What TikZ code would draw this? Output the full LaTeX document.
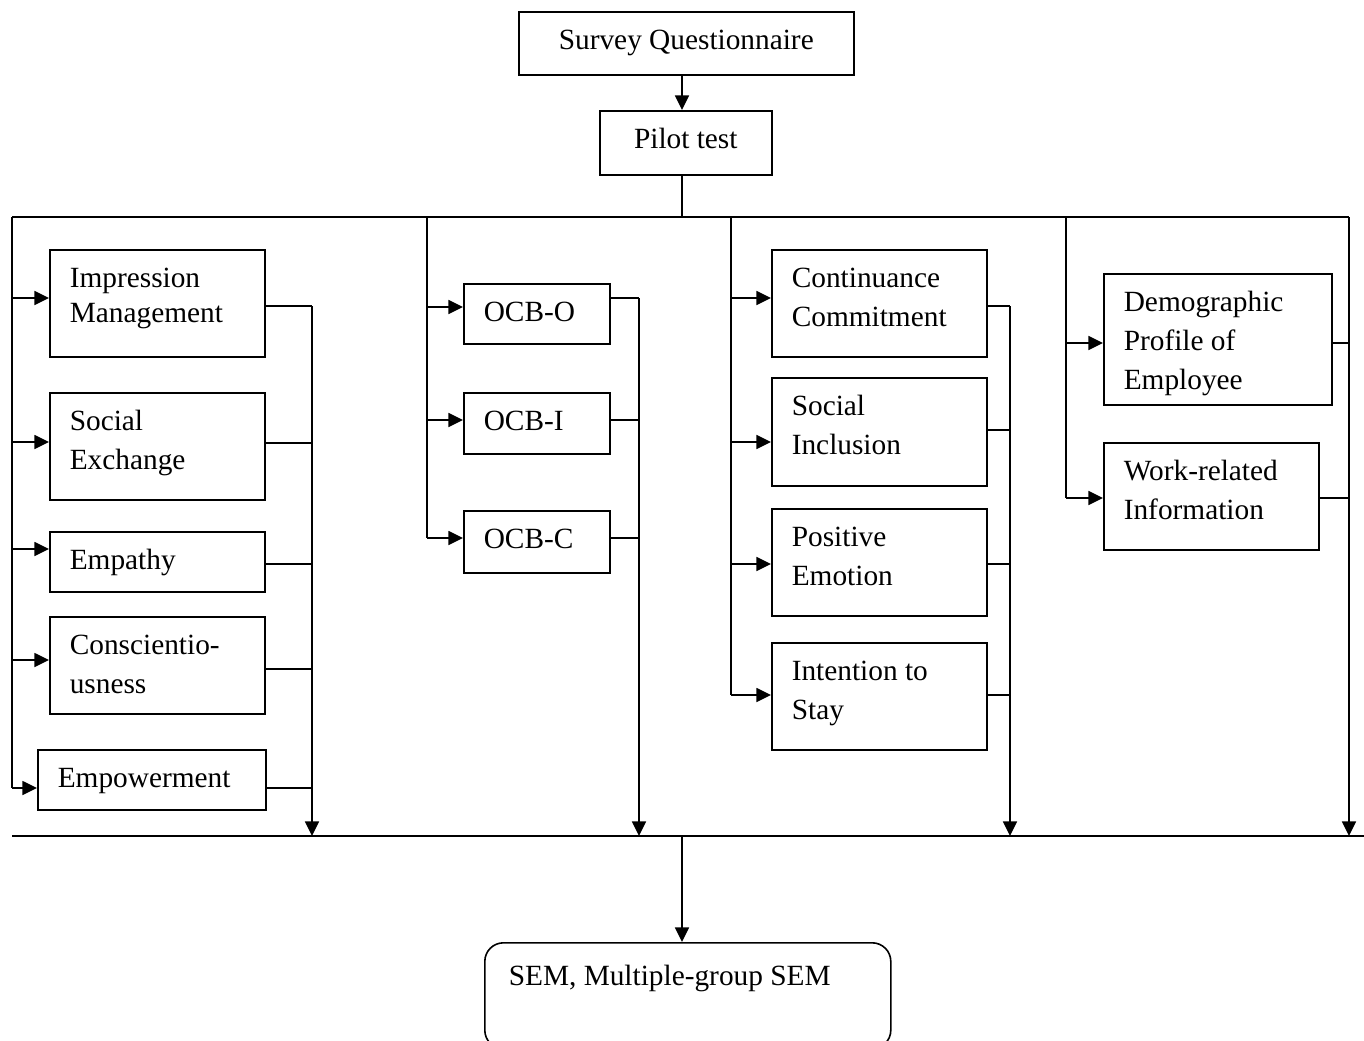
\documentclass[tikz,border=0pt]{standalone}
\usepackage{fontspec}
\setmainfont{Liberation Serif}
\usetikzlibrary{arrows.meta}

% text block of a box: width, height and left inset given in px units
\newcommand{\cell}[5][28.5pt]{\parbox[t][\dimexpr0.75pt*#3\relax][t]{\dimexpr0.75pt*#2\relax}{\raggedright\leftskip=\dimexpr0.75pt*#4\relax\rule{0pt}{#1}#5}}
\newcommand{\ccell}[3]{\parbox[t][\dimexpr0.75pt*#2\relax][t]{\dimexpr0.75pt*#1\relax}{\centering\rule{0pt}{28.5pt}#3}}

\tikzset{
  box/.style={draw, line width=1.2pt, inner sep=0pt, anchor=north west,
              font=\fontsize{22pt}{29pt}\selectfont},
  link/.style={line width=1.2pt},
  arr/.style={link, -{Triangle[length=11pt,width=10.5pt]}},
}

\begin{document}
\begin{tikzpicture}[x=0.75pt, y=-0.75pt]
\useasboundingbox (0,0) rectangle (1364,1040);

% top of the flow
\node[box] (sq) at (518,11)  {\ccell{335}{63}{Survey Questionnaire}};
\node[box] (pt) at (599,110) {\ccell{172}{64}{Pilot test}};

% first group
\node[box] (im) at (49,249) {\cell{215}{107}{20}{Impression\\[-3pt]Management}};
\node[box] (se) at (49,392) {\cell{215}{107}{20}{Social\\Exchange}};
\node[box] (em) at (49,531) {\cell{215}{60}{20}{Empathy}};
\node[box] (cs) at (49,616) {\cell{215}{97}{20}{Conscientio-\\usness}};
\node[box] (ep) at (37,749) {\cell{228}{60}{20}{Empowerment}};

% second group
\node[box] (oo) at (463,283) {\cell{146}{60}{20}{OCB-O}};
\node[box] (oi) at (463,392) {\cell{146}{61}{20}{OCB-I}};
\node[box] (oc) at (463,510) {\cell{146}{62}{20}{OCB-C}};

% third group
\node[box] (cc) at (771,249) {\cell{215}{107}{20}{Continuance\\Commitment}};
\node[box] (si) at (771,377) {\cell{215}{108}{20}{Social\\Inclusion}};
\node[box] (pe) at (771,508) {\cell{215}{107}{20}{Positive\\Emotion}};
\node[box] (is) at (771,642) {\cell{215}{107}{20}{Intention to\\Stay}};

% fourth group
\node[box] (dp) at (1103,273) {\cell{228}{131}{20}{Demographic\\Profile of\\Employee}};
\node[box] (wr) at (1103,442) {\cell{215}{107}{20}{Work-related\\Information}};

% analysis
\node[box, rounded corners=14pt] (sem) at (484,942) {\cell[32pt]{406}{106}{24}{SEM, Multiple-group SEM}};

% bus coordinates
\coordinate (hub) at (682,217);
\coordinate (tL) at (12,217);
\coordinate (tR) at (1349,217);
\coordinate (bL) at (12,836);
\coordinate (bR) at (1364,836);
\coordinate (g2) at (427,217);
\coordinate (g3) at (731,217);
\coordinate (g4) at (1066,217);

\draw[arr] (hub |- sq.south) -- (hub |- pt.north);
\draw[link] (hub |- pt.south) -- (hub);
\draw[link] (tL) -- (tR);
\draw[link] (bL) -- (bR);
\draw[arr] (hub |- bL) -- (hub |- sem.north);

% feeders into the boxes
\foreach \n/\x/\y in {im/12/298, se/12/442, em/12/549, cs/12/660, ep/12/788,
                      oo/427/307, oi/427/420, oc/427/538,
                      cc/731/298, si/731/442, pe/731/564, is/731/695,
                      dp/1066/343, wr/1066/498}{
  \coordinate (\n-in) at (\x,\y);
  \draw[arr] (\n-in) -- (\n-in -| \n.west);
}
\draw[link] (tL) -- (ep-in);
\draw[link] (g2) -- (oc-in);
\draw[link] (g3) -- (is-in);
\draw[link] (g4) -- (wr-in);

% collectors out of the boxes
\foreach \n/\x/\y in {im/312/306, se/312/443, em/312/564, cs/312/669, ep/312/788,
                      oo/639/298, oi/639/420, oc/639/538,
                      cc/1010/306, si/1010/430, pe/1010/564, is/1010/695,
                      dp/1349/343, wr/1349/498}{
  \coordinate (\n-out) at (\x,\y);
  \draw[link] (\n-out -| \n.east) -- (\n-out);
}
\draw[arr] (im-out) -- (im-out |- bL);
\draw[arr] (oo-out) -- (oo-out |- bL);
\draw[arr] (cc-out) -- (cc-out |- bL);
\draw[arr] (tR) -- (tR |- bL);
\end{tikzpicture}
\end{document}
